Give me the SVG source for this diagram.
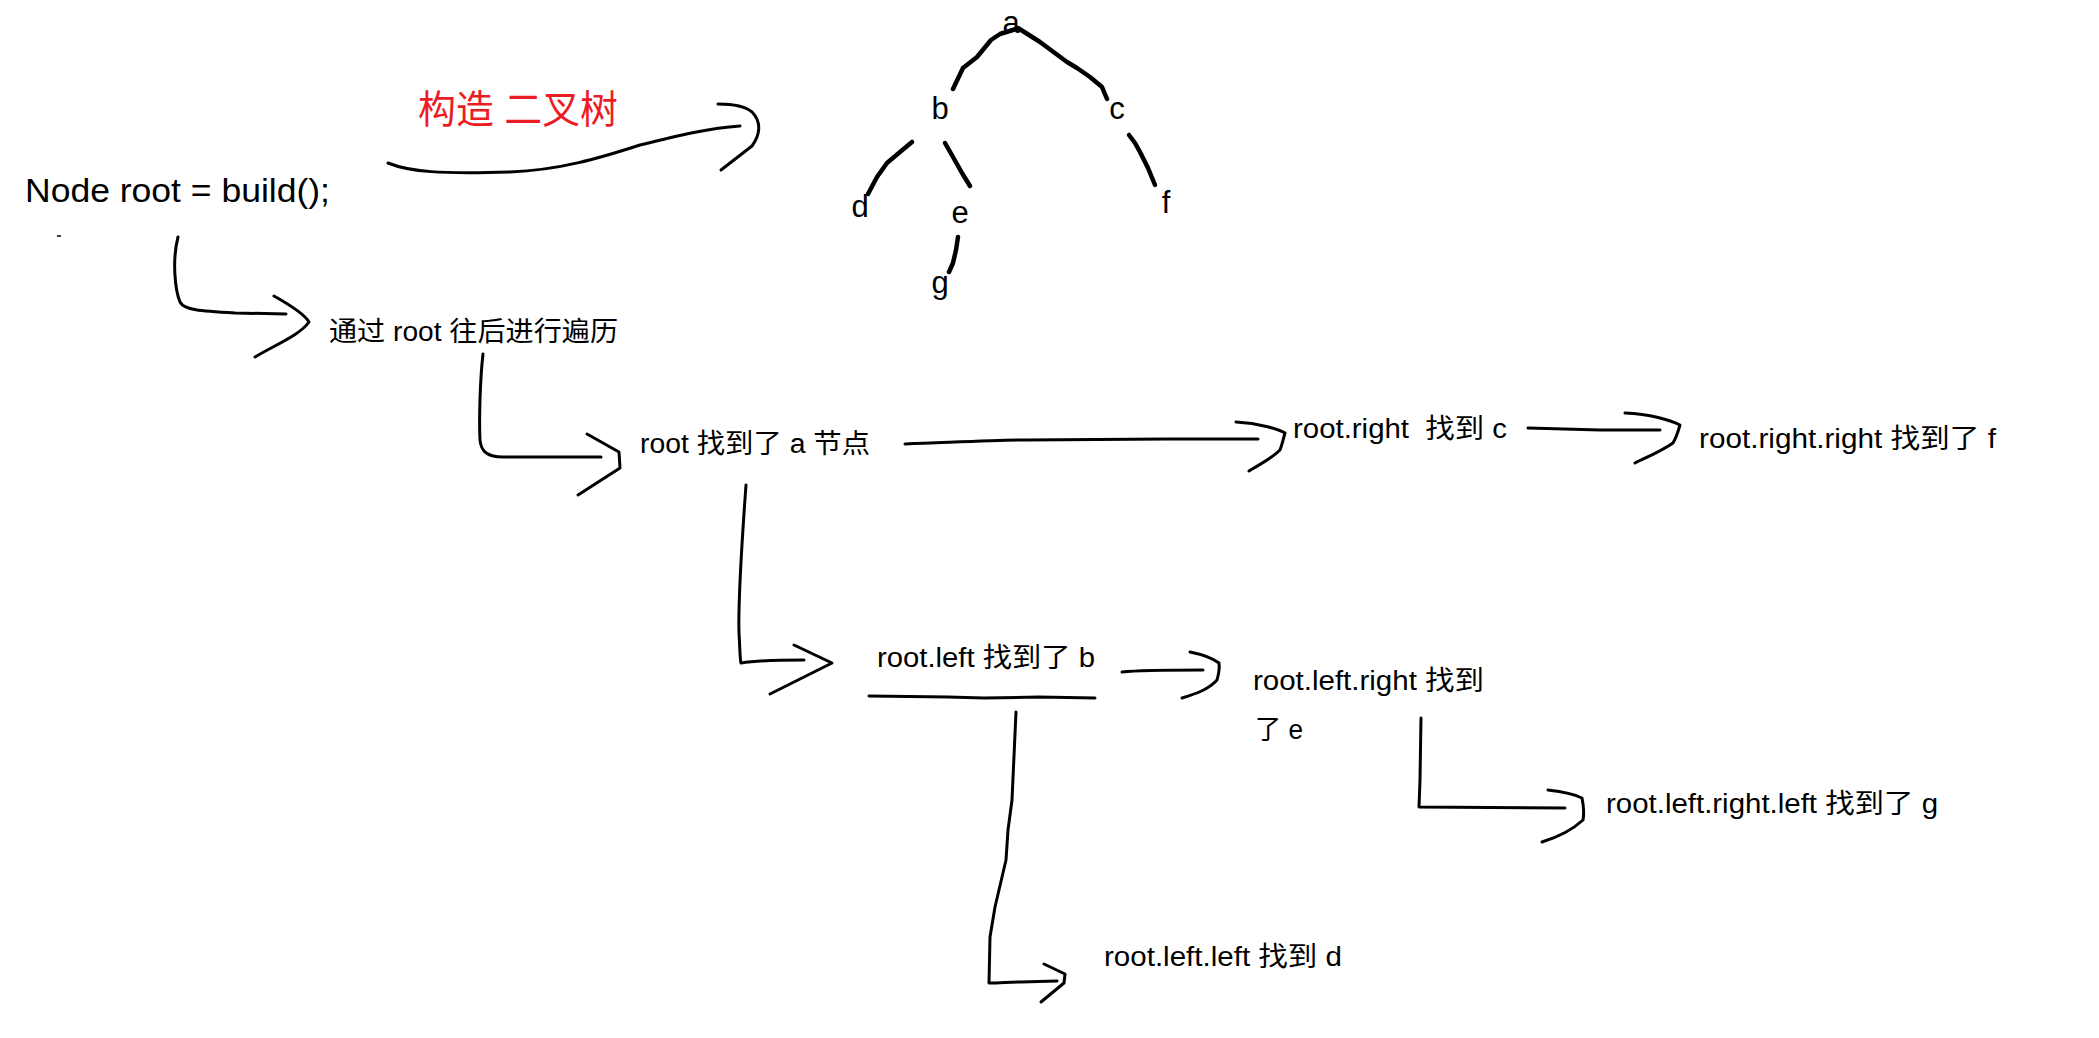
<svg xmlns="http://www.w3.org/2000/svg" width="2099" height="1038" viewBox="0 0 2099 1038">
<style>
  .t { font-family: "Liberation Sans", "Noto Sans CJK SC", sans-serif; fill: #000; }
  .s { font-size: 27px; }
  .tree { font-family: "Liberation Sans", sans-serif; font-size: 31px; fill: #000; text-anchor: middle; }
  .ln { fill: none; stroke: #000; stroke-width: 3; stroke-linecap: round; stroke-linejoin: round; }
  .tl { fill: none; stroke: #000; stroke-width: 4.5; stroke-linecap: round; stroke-linejoin: round; }
</style>
<rect width="2099" height="1038" fill="#fff"/>

<g id="node-build"><text class="t" x="25" y="202" font-size="34" textLength="305" lengthAdjust="spacingAndGlyphs">Node root = build();</text></g>
<g id="label-construct"><text class="t" x="418" y="123" font-size="39" fill="#ed1c24" style="fill:#ed1c24" textLength="200" lengthAdjust="spacingAndGlyphs">构造 二叉树</text></g>
<g id="node-traverse"><text class="t s" x="329" y="341" textLength="289" lengthAdjust="spacingAndGlyphs">通过 root 往后进行遍历</text></g>
<g id="node-a"><text class="t s" x="640" y="453" textLength="230" lengthAdjust="spacingAndGlyphs">root 找到了 a 节点</text></g>
<g id="node-c"><text class="t s" x="1293" y="438" xml:space="preserve" textLength="214" lengthAdjust="spacingAndGlyphs">root.right  找到 c</text></g>
<g id="node-f"><text class="t s" x="1699" y="448" textLength="297" lengthAdjust="spacingAndGlyphs">root.right.right 找到了 f</text></g>
<g id="node-b">
  <text class="t s" x="877" y="667" textLength="218" lengthAdjust="spacingAndGlyphs">root.left 找到了 b</text>
  <path class="ln" d="M869,696 L948,697 L984,698 L1039,697 L1095,698"/>
</g>
<g id="node-e">
  <text class="t s" x="1253" y="690" textLength="231" lengthAdjust="spacingAndGlyphs">root.left.right 找到</text>
  <text class="t s" x="1255" y="739" textLength="48" lengthAdjust="spacingAndGlyphs">了 e</text>
</g>
<g id="node-g"><text class="t s" x="1606" y="813" textLength="332" lengthAdjust="spacingAndGlyphs">root.left.right.left 找到了 g</text></g>
<g id="node-d"><text class="t s" x="1104" y="966" textLength="238" lengthAdjust="spacingAndGlyphs">root.left.left 找到 d</text></g>

<g id="tree">
  <text class="tree" x="1011" y="33">a</text>
  <text class="tree" x="940" y="119">b</text>
  <text class="tree" x="1117" y="119">c</text>
  <text class="tree" x="860" y="217">d</text>
  <text class="tree" x="960" y="223">e</text>
  <text class="tree" x="1166" y="213">f</text>
  <text class="tree" x="940" y="293">g</text>
  <path class="tl" d="M953,89 L963,68 L977,57 L991,40 L1000,34 L1016,29"/>
  <path class="tl" d="M1018,28 L1040,42 L1067,62 L1077,68 L1090,77 L1102,87 L1107,99"/>
  <path class="tl" d="M912,142 L900,152 L887,163 L877,177 L868,194"/>
  <path class="tl" d="M945,143 L953,157 L962,173 L970,186"/>
  <path class="tl" d="M1129,135 L1135,143 L1140,152 L1148,168 L1155,185"/>
  <path class="tl" d="M958,237 L956,250 L953,263 L949,272"/>
</g>

<g id="connectors">
  <path d="M57,236 L61,236" fill="none" stroke="#000" stroke-width="1.5"/>
  <path class="ln" d="M388,163 C410,172 440,174 510,172 C560,170 600,158 640,145 C680,135 710,128 740,126"/>
  <path class="ln" d="M718,104 C735,104 745,106 752,112 C762,122 760,135 752,146 L721,170"/>
  <path class="ln" d="M178,237 C172,260 175,290 180,302 C184,310 200,311 235,313 L286,314"/>
  <path class="ln" d="M274,296 C290,305 305,315 309,322 C300,335 275,345 255,357"/>
  <path class="ln" d="M483,354 C480,380 479,420 480,440 C481,452 488,457 503,457 L601,457"/>
  <path class="ln" d="M587,434 L619,452 L620,468 L578,495"/>
  <path class="ln" d="M905,444 C960,442 1000,440 1026,440 L1167,439 L1258,439"/>
  <path class="ln" d="M1236,422 C1260,423 1280,430 1285,433 C1283,440 1282,445 1280,450 C1270,460 1258,465 1249,471"/>
  <path class="ln" d="M1528,428 L1600,430 L1660,430"/>
  <path class="ln" d="M1625,413 C1650,414 1670,420 1680,425 C1678,432 1676,438 1673,443 C1660,452 1645,458 1635,463"/>
  <path class="ln" d="M746,485 C742,540 738,600 739,633 C740,650 740,660 741,663 C760,660 785,660 804,660"/>
  <path class="ln" d="M794,645 L832,663 L770,694"/>
  <path class="ln" d="M1122,672 C1140,670 1170,670 1203,670"/>
  <path class="ln" d="M1190,652 C1205,655 1215,660 1219,663 C1220,670 1218,676 1217,680 C1208,690 1195,694 1182,698"/>
  <path class="ln" d="M1016,712 L1012,800 L1008,830 L1006,860 L995,907 L990,937 L989,983 C1000,983 1010,982 1021,982 L1057,981"/>
  <path class="ln" d="M1044,964 L1065,974 L1064,983 L1041,1002"/>
  <path class="ln" d="M1421,718 L1420,780 L1419,807 L1565,808"/>
  <path class="ln" d="M1548,790 C1565,792 1578,796 1582,798 C1584,808 1584,815 1583,820 C1570,832 1555,838 1542,842"/>
</g>
</svg>
